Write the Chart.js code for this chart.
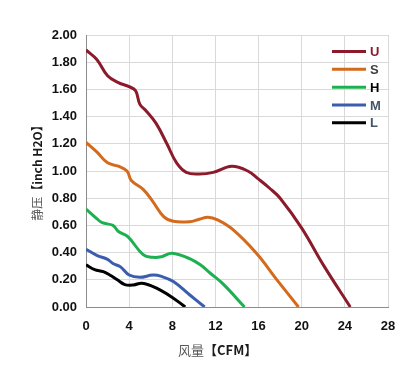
<!DOCTYPE html>
<html>
<head>
<meta charset="utf-8">
<script src="https://cdn.jsdelivr.net/npm/chart.js@4/dist/chart.umd.min.js"></script>
<style>
  html, body { margin: 0; padding: 0; background: #fff; }
  #wrap { width: 418px; height: 368px; }
</style>
</head>
<body>
<div id="wrap"><canvas id="pqChart" width="418" height="368"></canvas></div>
<script>
// 风量 (CFM) / 静压 (inch H2O) — 各档位读图数据
const seriesNames = ['U', 'S', 'H', 'M', 'L'];
const seriesColors = ['#8B1A2B', '#D46A1C', '#1DB050', '#3A5DAE', '#000000'];
const labelColors = ['#8B1A2B', '#404040', '#000000', '#44546A', '#44546A'];

const uFlow     = [0, 1, 2, 3, 4, 4.6, 5, 5.6, 6.5, 7.5, 8.4, 9.3, 10.5, 11.8, 13.5, 15, 16, 17, 18, 20, 22, 24.5];
const uPressure = [1.89, 1.82, 1.70, 1.65, 1.62, 1.59, 1.49, 1.44, 1.35, 1.20, 1.06, 0.99, 0.978, 0.99, 1.035, 1.0, 0.94, 0.875, 0.80, 0.58, 0.31, 0];

const sFlow     = [0, 1, 2, 3, 3.8, 4.2, 5.3, 6.2, 7.2, 8.1, 9.6, 10.5, 11.3, 12.2, 13.6, 15.8, 17.7, 19.7];
const sPressure = [1.21, 1.14, 1.06, 1.035, 1.0, 0.93, 0.865, 0.775, 0.665, 0.63, 0.627, 0.645, 0.66, 0.64, 0.57, 0.395, 0.20, 0];

const hFlow     = [0, 1, 1.5, 2.5, 3, 3.9, 5.3, 6.2, 7, 8, 9.6, 10.6, 11.5, 12.7, 14.7];
const hPressure = [0.72, 0.65, 0.62, 0.60, 0.555, 0.515, 0.385, 0.365, 0.37, 0.395, 0.355, 0.31, 0.25, 0.17, 0];

const mFlow     = [0, 1, 2, 2.5, 3.2, 4, 5, 6.2, 7, 8.1, 9.6, 11];
const mPressure = [0.425, 0.38, 0.35, 0.32, 0.295, 0.235, 0.218, 0.235, 0.225, 0.187, 0.09, 0];

const lFlow     = [0, 0.8, 1.6, 2.2, 2.9, 3.6, 4.4, 5.2, 6.5, 8.1, 9.2];
const lPressure = [0.31, 0.275, 0.26, 0.235, 0.2, 0.165, 0.162, 0.175, 0.14, 0.065, 0];

const xTicks = [0, 4, 8, 12, 16, 20, 24, 28];
const yTicks = [0, 0.2, 0.4, 0.6, 0.8, 1.0, 1.2, 1.4, 1.6, 1.8, 2.0];

const flows = [uFlow, sFlow, hFlow, mFlow, lFlow];
const pressures = [uPressure, sPressure, hPressure, mPressure, lPressure];

const toPoints = (xs, ys) => xs.map((x, i) => ({ x: x, y: ys[i] }));

/* ==================================================
  凡例・坐标轴标题（自绘）
================================================== */
const annotPlugin = {
  id: 'annot',
  afterDraw(chart) {
    const { ctx, chartArea } = chart;
    ctx.save();

    // 凡例
    const x0 = chartArea.right - 56;
    const rowY = [51.5, 69.3, 87.2, 105, 122.7];
    chart.data.datasets.forEach((ds, i) => {
      ctx.strokeStyle = ds.borderColor;
      ctx.lineWidth = 3;
      ctx.beginPath();
      ctx.moveTo(x0, rowY[i]);
      ctx.lineTo(x0 + 34, rowY[i]);
      ctx.stroke();
      ctx.fillStyle = labelColors[i];
      ctx.font = 'bold 13px "Liberation Sans", Arial, sans-serif';
      ctx.textBaseline = 'middle';
      ctx.textAlign = 'left';
      ctx.fillText(ds.label, x0 + 38, rowY[i] + 1);
    });

    // Y 轴标题
    const part1 = '静压';
    const part2 = '【inch H2O】';
    ctx.translate(37, 170);
    ctx.rotate(-Math.PI / 2);
    ctx.textBaseline = 'middle';
    ctx.font = '12px "Noto Sans CJK SC", sans-serif';
    const w1 = ctx.measureText(part1).width;
    ctx.font = 'bold 12px "Noto Sans CJK SC", sans-serif';
    const w2 = ctx.measureText(part2).width;
    let sx = -(w1 + w2) / 2;
    ctx.textAlign = 'left';
    ctx.font = '12px "Noto Sans CJK SC", sans-serif';
    ctx.fillStyle = '#595959';
    ctx.fillText(part1, sx, 0);
    ctx.font = 'bold 12px "Noto Sans CJK SC", sans-serif';
    ctx.fillStyle = '#1a1a1a';
    ctx.fillText(part2, sx + w1, 0);
    ctx.setTransform(1, 0, 0, 1, 0, 0);

    // X 轴标题
    const xa = '风量';
    const xb = '【CFM】';
    ctx.font = '13px "Noto Sans CJK SC", sans-serif';
    ctx.fillStyle = '#595959';
    ctx.textBaseline = 'middle';
    ctx.fillText(xa, 178, 350);
    const wa = ctx.measureText(xa).width;
    ctx.font = 'bold 13px "Noto Sans CJK SC", sans-serif';
    ctx.fillStyle = '#1a1a1a';
    ctx.fillText(xb, 178 + wa, 350);

    ctx.restore();
  }
};

const ctx = document.getElementById('pqChart').getContext('2d');
new Chart(ctx, {
  type: 'line',
  data: {
    datasets: seriesNames.map((name, i) => ({
      label: name,
      data: toPoints(flows[i], pressures[i]),
      borderColor: seriesColors[i],
      backgroundColor: seriesColors[i],
      borderWidth: 3,
      pointRadius: 0,
      tension: 0.4,
      fill: false
    }))
  },
  options: {
    responsive: false,
    animation: false,
    layout: { padding: { top: 35, right: 30, bottom: 0, left: 0 } },
    plugins: {
      legend: { display: false },
      tooltip: { enabled: false }
    },
    scales: {
      x: {
        type: 'linear',
        min: 0,
        max: 28,
        afterFit: (scale) => { scale.height = 61; },
        afterBuildTicks: (scale) => { scale.ticks = xTicks.map(v => ({ value: v })); },
        grid: { color: '#D9D9D9', drawTicks: false },
        border: { color: '#8C8C8C', width: 1 },
        ticks: {
          padding: 12,
          color: '#111',
          font: { family: '"Liberation Sans", Arial, sans-serif', size: 13, weight: 'bold' },
          maxRotation: 0
        }
      },
      y: {
        min: 0,
        max: 2,
        afterFit: (scale) => { scale.width = 86; },
        afterBuildTicks: (scale) => { scale.ticks = yTicks.map(v => ({ value: v })); },
        grid: { color: '#D9D9D9', drawTicks: false },
        border: { color: '#8C8C8C', width: 1 },
        ticks: {
          padding: 9,
          color: '#111',
          font: { family: '"Liberation Sans", Arial, sans-serif', size: 13, weight: 'bold' },
          callback: (v) => Number(v).toFixed(2)
        }
      }
    }
  },
  plugins: [annotPlugin]
});
</script>
</body>
</html>
